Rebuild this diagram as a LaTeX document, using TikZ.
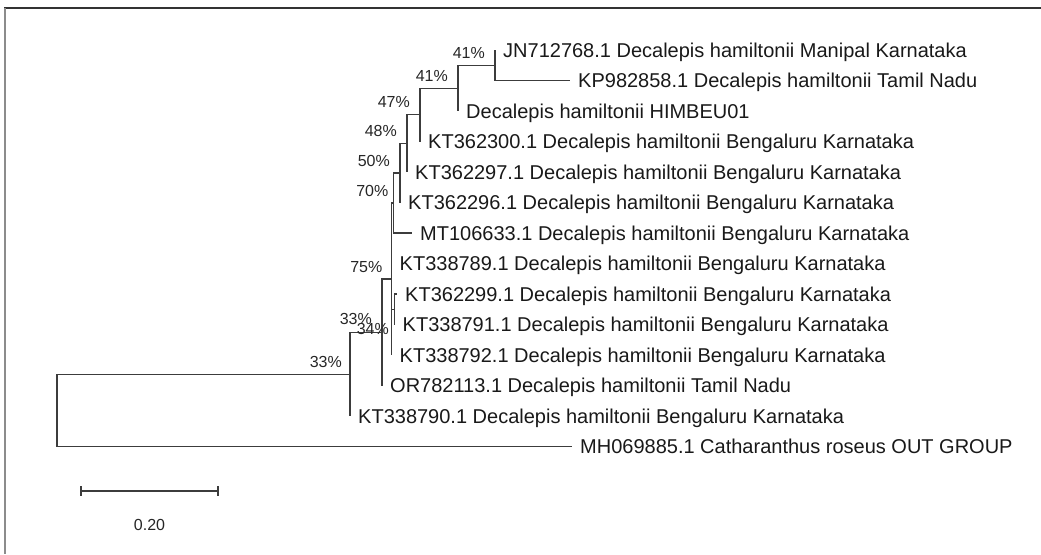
\documentclass[tikz,border=0pt]{standalone}
\usepackage{fontspec}
\setmainfont{Liberation Sans}
\usepackage{tikz}
\usetikzlibrary{positioning}

\definecolor{treeGray}{RGB}{60, 60, 60}
\definecolor{frameDark}{RGB}{50, 50, 50}
\definecolor{frameLight}{RGB}{140, 140, 140}

\begin{document}
\begin{tikzpicture}[
    x=1pt, y=-1pt,
    node distance=8pt,
    branch/.style={draw=treeGray, line width=1.1pt},
    leaf/.style={inner sep=0pt, font=\fontsize{20}{24}\selectfont,
                 text=black!90, text height=14.3pt, text depth=0pt},
    boot/.style={inner sep=0pt, font=\fontsize{16}{19}\selectfont,
                 text=black!85, text height=11.5pt, text depth=0pt}
  ]
    \useasboundingbox (0,0) rectangle (1041,554);
    % frame
    \draw[frameDark, line width=1.6pt] (4,8) -- (1041,8);
    \draw[frameLight, line width=1.6pt] (5,8) -- (5,554);

    % branch tips
    \coordinate (tJN)  at (495,50);
    \coordinate (tKP)  at (570,80.5);
    \coordinate (tHIM) at (458,111);
    \coordinate (t300) at (420,141.5);
    \coordinate (t297) at (407,172);
    \coordinate (t296) at (400,202.5);
    \coordinate (tMT)  at (412,233);
    \coordinate (t789) at (391.5,263.5);
    \coordinate (t299) at (397,294);
    \coordinate (t791) at (394.5,324.5);
    \coordinate (t792) at (391.5,355);
    \coordinate (tOR)  at (382,385.5);
    \coordinate (t790) at (350,416);
    \coordinate (tMH)  at (572,446.5);

    % inner nodes
    \coordinate (nA) at (495,65.25);
    \coordinate (nB) at (458,88.1);
    \coordinate (nC) at (420,114.8);
    \coordinate (nD) at (407,143.4);
    \coordinate (nE) at (400,173);
    \coordinate (nF) at (393.5,203);
    \coordinate (nG) at (391.5,279);
    \coordinate (nH) at (394.5,309.25);
    \coordinate (nI) at (382,332.25);
    \coordinate (nJ) at (350,374.1);
    \coordinate (nR) at (57,410.3);

    % branches
    \draw[branch] (nA) |- (tJN) (nA) |- (tKP);
    \draw[branch] (nB) |- (nA) (nB) |- (tHIM);
    \draw[branch] (nC) |- (nB) (nC) |- (t300);
    \draw[branch] (nD) |- (nC) (nD) |- (t297);
    \draw[branch] (nE) |- (nD) (nE) |- (t296);
    \draw[branch] (nF) |- (nE) (nF) |- (tMT);
    \draw[branch] (nG) |- (nF) (nG) |- (t789) (nG) |- (nH) (nG) |- (t792);
    \draw[branch] (nH) |- (t299) (nH) |- (t791);
    \draw[branch] (nI) |- (nG) (nI) |- (tOR);
    \draw[branch] (nJ) |- (nI) (nJ) |- (t790);
    \draw[branch] (nR) |- (nJ) (nR) |- (tMH);

    % taxa
    \node[leaf, right=of tJN]  (JN)  {JN712768.1 Decalepis hamiltonii Manipal Karnataka};
    \node[leaf, right=of tKP]  (KP)  {KP982858.1 Decalepis hamiltonii Tamil Nadu};
    \node[leaf, right=of tHIM] (HIM) {Decalepis hamiltonii HIMBEU01};
    \node[leaf, right=of t300] (K300) {KT362300.1 Decalepis hamiltonii Bengaluru Karnataka};
    \node[leaf, right=of t297] (K297) {KT362297.1 Decalepis hamiltonii Bengaluru Karnataka};
    \node[leaf, right=of t296] (K296) {KT362296.1 Decalepis hamiltonii Bengaluru Karnataka};
    \node[leaf, right=of tMT]  (MT)  {MT106633.1 Decalepis hamiltonii Bengaluru Karnataka};
    \node[leaf, right=of t789] (K789) {KT338789.1 Decalepis hamiltonii Bengaluru Karnataka};
    \node[leaf, right=of t299] (K299) {KT362299.1 Decalepis hamiltonii Bengaluru Karnataka};
    \node[leaf, right=of t791] (K791) {KT338791.1 Decalepis hamiltonii Bengaluru Karnataka};
    \node[leaf, right=of t792] (K792) {KT338792.1 Decalepis hamiltonii Bengaluru Karnataka};
    \node[leaf, right=of tOR]  (OR)  {OR782113.1 Decalepis hamiltonii Tamil Nadu};
    \node[leaf, right=of t790] (K790) {KT338790.1 Decalepis hamiltonii Bengaluru Karnataka};
    \node[leaf, right=of tMH]  (MH)  {MH069885.1 Catharanthus roseus OUT GROUP};

    % bootstrap values
    \node[boot, above left=6.8pt and 10pt of nA] (bA) {41\%};
    \node[boot, above left=6.8pt and 10pt of nB] (bB) {41\%};
    \node[boot, above left=6.8pt and 10pt of nC] (bC) {47\%};
    \node[boot, above left=6.8pt and 10pt of nD] (bD) {48\%};
    \node[boot, above left=6.8pt and 10pt of nE] (bE) {50\%};
    \node[boot, above left=6.8pt and 5pt of nF] (bF) {70\%};
    \node[boot, above left=6.8pt and 9pt of nG] (bG) {75\%};
    \node[boot, below left=13.2pt and 5.5pt of nH] (bH) {34\%};
    \node[boot, above left=7.3pt and 10pt of nI] (bI) {33\%};
    \node[boot, above left=6.8pt and 8pt of nJ] (bJ) {33\%};

    % scale bar
    \coordinate (sL) at (81,491);
    \coordinate (sR) at (218,491);
    \coordinate (sM) at (149.5,491);
    \draw[branch] (sL) -- (sR);
    \draw[branch] ([yshift=5pt]sL) -- ([yshift=-5pt]sL);
    \draw[branch] ([yshift=5pt]sR) -- ([yshift=-5pt]sR);
    \node[boot, below=27.3pt of sM] (scale) {0.20};
  \end{tikzpicture}
\end{document}
